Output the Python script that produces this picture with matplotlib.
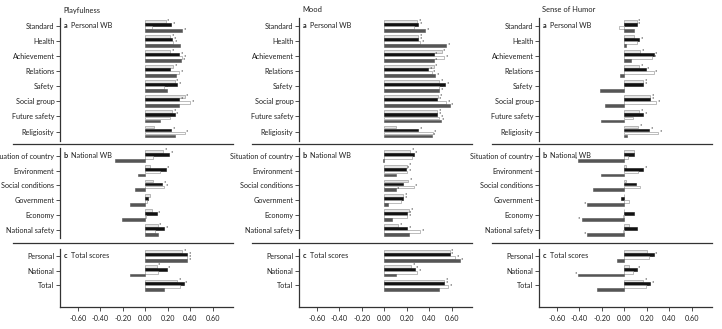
import matplotlib.pyplot as plt
from matplotlib.lines import Line2D
import numpy as np

plt.rcParams['font.family'] = ['Lato', 'DejaVu Sans']

measures = ['Playfulness', 'Mood', 'Sense of Humor']

cats_a = ['Standard', 'Health', 'Achievement', 'Relations', 'Safety',
          'Social group', 'Future safety', 'Religiosity']
cats_b = ['Situation of country', 'Environment', 'Social conditions',
          'Government', 'Economy', 'National safety']
cats_c = ['Personal', 'National', 'Total']

panel_titles = ['Personal WB', 'National WB', 'Total scores']
panel_letters = ['a', 'b', 'c']

# rows per category: light gray, black, white, dark gray
play_a = [[0.18, 0.23, 0.06, 0.33], [0.22, 0.24, 0.25, 0.31], [0.22, 0.30, 0.33, 0.32],
          [0.25, 0.22, 0.30, 0.27], [0.26, 0.28, 0.17, 0.19], [0.35, 0.30, 0.40, 0.30],
          [0.24, 0.26, 0.22, 0.13], [0.08, 0.23, 0.35, 0.26]]
play_a_star = [[1, 1, 0, 1], [1, 1, 1, 0], [1, 1, 1, 1], [1, 0, 1, 0],
               [1, 1, 1, 0], [1, 1, 1, 0], [1, 1, 0, 0], [0, 1, 1, 0]]
play_b = [[0.16, 0.21, 0.07, -0.27], [0.04, 0.18, 0.13, -0.07], [0.07, 0.15, 0.17, -0.09],
          [0.04, 0.02, 0.015, -0.14], [0.06, 0.10, 0.01, -0.21], [0.11, 0.17, 0.09, 0.11]]
play_b_star = [[1, 1, 0, 0], [0, 1, 0, 0], [0, 1, 1, 0], [0, 0, 0, 0], [0, 1, 0, 0], [1, 1, 0, 0]]
play_c = [[0.33, 0.37, 0.37, 0.37], [0.10, 0.19, 0.11, -0.14], [0.28, 0.34, 0.31, 0.17]]
play_c_star = [[1, 1, 1, 1], [1, 1, 0, 0], [1, 1, 1, 0]]

mood_a = [[0.29, 0.30, 0.26, 0.36], [0.30, 0.30, 0.32, 0.55], [0.51, 0.44, 0.53, 0.44],
          [0.44, 0.39, 0.42, 0.45], [0.49, 0.54, 0.49, 0.49], [0.48, 0.47, 0.55, 0.58],
          [0.47, 0.47, 0.49, 0.50], [0.10, 0.30, 0.43, 0.42]]
mood_a_star = [[1, 1, 0, 1], [1, 1, 1, 1], [1, 1, 1, 1], [1, 1, 1, 1],
               [1, 1, 1, 1], [1, 1, 1, 1], [1, 1, 1, 1], [0, 1, 1, 1]]
mood_b = [[0.23, 0.26, 0.25, -0.01], [0.20, 0.19, 0.20, 0.10], [0.21, 0.17, 0.26, 0.10],
          [0.17, 0.17, 0.15, 0.03], [0.22, 0.20, 0.20, 0.07], [0.12, 0.20, 0.32, 0.22]]
mood_b_star = [[1, 1, 0, 0], [1, 1, 1, 0], [1, 0, 1, 1], [1, 1, 0, 0], [1, 1, 1, 0], [1, 1, 1, 0]]
mood_c = [[0.58, 0.58, 0.63, 0.67], [0.24, 0.27, 0.29, 0.10], [0.53, 0.53, 0.57, 0.49]]
mood_c_star = [[1, 1, 1, 1], [1, 1, 1, 0], [1, 1, 1, 0]]

humor_a = [[0.11, 0.11, -0.05, 0.09], [0.09, 0.13, 0.11, 0.01], [0.14, 0.26, 0.25, 0.06],
           [0.13, 0.19, 0.26, -0.04], [0.17, 0.17, 0.00, -0.22], [0.23, 0.23, 0.28, -0.17],
           [0.13, 0.17, 0.08, -0.21], [0.12, 0.22, 0.30, 0.02]]
humor_a_star = [[1, 1, 0, 0], [0, 1, 0, 0], [1, 1, 1, 0], [1, 1, 1, 0],
                [1, 1, 0, 0], [1, 1, 1, 0], [1, 1, 0, 0], [1, 1, 1, 0]]
humor_b = [[0.09, 0.09, 0.03, -0.41], [0.01, 0.17, 0.12, -0.21], [0.01, 0.10, 0.14, -0.28],
           [0.00, -0.03, 0.04, -0.33], [0.00, 0.09, -0.01, -0.38], [0.04, 0.11, -0.01, -0.33]]
humor_b_star = [[0, 0, 0, 1], [0, 1, 0, 0], [0, 0, 0, 0], [0, 0, 0, 1], [0, 0, 0, 1], [0, 0, 0, 1]]
humor_c = [[0.20, 0.26, 0.22, -0.07], [0.04, 0.11, 0.08, -0.41], [0.17, 0.23, 0.19, -0.24]]
humor_c_star = [[0, 1, 1, 0], [0, 1, 1, 1], [1, 1, 1, 0]]

xticks = [-0.6, -0.4, -0.2, 0.0, 0.2, 0.4, 0.6]

face = ['#e4e4e4', '#111111', '#ffffff', '#555555']
edge = ['#8a8a8a', '#111111', '#8a8a8a', '#555555']
offsets = [-0.3, -0.1, 0.1, 0.3]

W, H = 722, 329
fig = plt.figure(figsize=(W / 100, H / 100), dpi=100)
fig.patch.set_facecolor('white')

col_left = [60, 299, 539]
ax_w = 173
# (top, bottom, top margin, bottom margin) in pixels / category units
panel_px = [(18, 141, 0.53, 0.63), (148, 238, 0.52, 0.54), (249, 307, 0.47, 1.47)]
sep_y = [144, 243]

data = [
    [(play_a, play_a_star), (play_b, play_b_star), (play_c, play_c_star)],
    [(mood_a, mood_a_star), (mood_b, mood_b_star), (mood_c, mood_c_star)],
    [(humor_a, humor_a_star), (humor_b, humor_b_star), (humor_c, humor_c_star)],
]
cats = [cats_a, cats_b, cats_c]

for ci, measure in enumerate(measures):
    left = col_left[ci]
    for pi in range(3):
        top, bot, mt, mb = panel_px[pi]
        ax = fig.add_axes([left / W, 1 - bot / H, ax_w / W, (bot - top) / H])
        vals, stars = data[ci][pi]
        vals = np.array(vals)
        stars = np.array(stars)
        n = len(cats[pi])
        y = np.arange(n)
        for si in range(4):
            ax.barh(y + offsets[si], vals[:, si], height=0.19, color=face[si],
                    edgecolor=edge[si], linewidth=0.4)
            for k in range(n):
                if stars[k, si]:
                    v = vals[k, si]
                    if v >= 0:
                        ax.text(v + 0.012, y[k] + offsets[si] - 0.08, '*', fontsize=4,
                                ha='left', va='center', color='#222222')
                    else:
                        ax.text(v - 0.012, y[k] + offsets[si] - 0.08, '*', fontsize=4,
                                ha='right', va='center', color='#222222')
        ax.set_xlim(-0.76, 0.78)
        ax.set_ylim(n - 1 + mb, -mt)
        ax.set_yticks(y)
        ax.set_yticklabels(cats[pi], fontsize=5.2, color='#222222')
        ax.tick_params(axis='y', length=3, width=0.6, pad=1, color='#333333')
        for s in ['top', 'right', 'bottom']:
            ax.spines[s].set_visible(False)
        ax.spines['left'].set_linewidth(0.9)
        ax.spines['left'].set_color('#333333')
        ax.patch.set_alpha(0)
        if pi == 2:
            ax.spines['bottom'].set_visible(True)
            ax.spines['bottom'].set_linewidth(0.9)
            ax.spines['bottom'].set_color('#333333')
            ax.set_xticks(xticks)
            ax.set_xticklabels([f'{v:.2f}' for v in xticks], fontsize=5.2, color='#222222')
            ax.tick_params(axis='x', length=3, width=0.6, pad=3, color='#333333')
        else:
            ax.set_xticks([])
        ax.text(0.02, 0, panel_letters[pi], transform=ax.get_yaxis_transform(),
                fontsize=5.2, fontweight='bold', va='center', ha='left', color='#222222')
        ax.text(0.065, 0, panel_titles[pi], transform=ax.get_yaxis_transform(),
                fontsize=5.2, va='center', ha='left', color='#222222')

    fig.text((left + 3) / W, 1 - 10 / H, measure, fontsize=5.4, va='center',
             ha='left', color='#222222')
    for sy in sep_y:
        fig.add_artist(Line2D([(left - 47) / W, (left + ax_w) / W], [1 - sy / H, 1 - sy / H],
                              color='#333333', linewidth=0.9))

fig.savefig('out.png', dpi=100)
